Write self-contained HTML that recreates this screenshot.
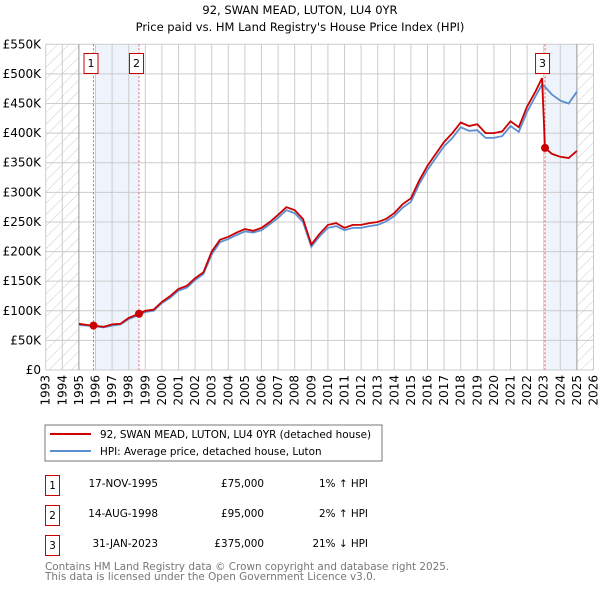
<!DOCTYPE html>
<html><head><meta charset="utf-8"><style>
body{margin:0;background:#fff;width:600px;height:590px;overflow:hidden;font-family:"DejaVu Sans","Liberation Sans",sans-serif;}
svg text{font-family:"DejaVu Sans","Liberation Sans",sans-serif;}
</style></head><body>
<svg id="c" width="600" height="590" xmlns="http://www.w3.org/2000/svg">
<defs><pattern id="hatch" width="8" height="8" patternUnits="userSpaceOnUse" patternTransform="rotate(45)"><line x1="0" y1="0" x2="0" y2="8" stroke="#ccc" stroke-width="1"/></pattern></defs>
<text x="300" y="14" text-anchor="middle" font-size="11.5">92, SWAN MEAD, LUTON, LU4 0YR</text>
<text x="300" y="31" text-anchor="middle" font-size="11.5">Price paid vs. HM Land Registry's House Price Index (HPI)</text>
<g id="plot"></g>
<rect x="45" y="425" width="337" height="36" fill="#fff" stroke="#777"/>
<line x1="50" y1="434" x2="91" y2="434" stroke="#cc0000" stroke-width="2"/>
<text x="100" y="438" font-size="10.4">92, SWAN MEAD, LUTON, LU4 0YR (detached house)</text>
<line x1="50" y1="451" x2="91" y2="451" stroke="#5b8fd0" stroke-width="2"/>
<text x="100" y="455" font-size="10.4">HPI: Average price, detached house, Luton</text>
<g font-size="10.4">
<rect x="45.5" y="475.5" width="14" height="20" fill="#fff" stroke="#cc0000"/><text x="52.5" y="489" text-anchor="middle">1</text>
<text x="158" y="487" text-anchor="end">17-NOV-1995</text><text x="264" y="487" text-anchor="end">£75,000</text><text x="368" y="487" text-anchor="end">1% ↑ HPI</text>
<rect x="45.5" y="505.5" width="14" height="20" fill="#fff" stroke="#cc0000"/><text x="52.5" y="519" text-anchor="middle">2</text>
<text x="158" y="517" text-anchor="end">14-AUG-1998</text><text x="264" y="517" text-anchor="end">£95,000</text><text x="368" y="517" text-anchor="end">2% ↑ HPI</text>
<rect x="45.5" y="535.5" width="14" height="20" fill="#fff" stroke="#cc0000"/><text x="52.5" y="549" text-anchor="middle">3</text>
<text x="158" y="547" text-anchor="end">31-JAN-2023</text><text x="264" y="547" text-anchor="end">£375,000</text><text x="368" y="547" text-anchor="end">21% ↓ HPI</text>
</g>
<text x="45" y="570" font-size="10.4" fill="#777">Contains HM Land Registry data © Crown copyright and database right 2025.</text>
<text x="45" y="580" font-size="10.4" fill="#777">This data is licensed under the Open Government Licence v3.0.</text>
</svg>
<script>
const years=[1995,1995.5,1995.88,1996.5,1997,1997.5,1998,1998.62,1999,1999.5,2000,2000.5,2001,2001.5,2002,2002.5,2003,2003.5,2004,2004.5,2005,2005.5,2006,2006.5,2007,2007.5,2008,2008.5,2009,2009.5,2010,2010.5,2011,2011.5,2012,2012.5,2013,2013.5,2014,2014.5,2015,2015.5,2016,2016.5,2017,2017.5,2018,2018.5,2019,2019.5,2020,2020.5,2021,2021.5,2022,2022.5,2022.9,2023.08,2023.5,2024,2024.5,2025];
const priceK=[78,76,75,73,77,78,88,95,100,102,115,125,137,142,155,165,200,220,225,232,238,235,240,250,262,275,270,255,212,230,245,248,240,245,245,248,250,255,265,280,290,320,345,365,385,400,418,412,415,400,400,403,420,410,445,470,493,375,365,360,358,370];
const hpiK=[76,75,74,72,75,77,86,93,98,100,113,122,134,139,152,162,195,216,221,228,234,232,236,246,257,270,265,250,208,226,240,243,236,240,240,243,245,251,260,274,284,314,338,358,378,392,410,404,405,392,392,395,412,402,436,462,482,478,465,455,450,470];
const sales=[{n:'1',t:1995.88,v:75},{n:'2',t:1998.62,v:95},{n:'3',t:2023.08,v:375}];
const yTicks=[0,50,100,150,200,250,300,350,400,450,500,550];
const xTicks=[1993,1994,1995,1996,1997,1998,1999,2000,2001,2002,2003,2004,2005,2006,2007,2008,2009,2010,2011,2012,2013,2014,2015,2016,2017,2018,2019,2020,2021,2022,2023,2024,2025,2026];
const X=t=>45.7+(t-1993)*16.6, Y=v=>370-v/550*325.7;
const g=document.getElementById('plot'),NS='http://www.w3.org/2000/svg';
function mk(tag,a,p){const e=document.createElementNS(NS,tag);for(const k in a)e.setAttribute(k,a[k]);(p||g).appendChild(e);return e;}
let e;
e=mk('rect',{x:X(1993),y:Y(550),width:X(2026)-X(1993),height:Y(0)-Y(550),fill:'#fff'});


e=mk('rect',{x:X(1993),y:Y(550),width:X(1995)-X(1993),height:Y(0)-Y(550),fill:'url(#hatch)'});


e=mk('rect',{x:X(2025),y:Y(550),width:X(2026)-X(2025),height:Y(0)-Y(550),fill:'url(#hatch)'});


e=mk('rect',{x:X(1996),y:Y(550),width:X(1998.62)-X(1996),height:Y(0)-Y(550),fill:'#eef3fc'});


e=mk('rect',{x:X(2023.08),y:Y(550),width:X(2025)-X(2023.08),height:Y(0)-Y(550),fill:'#eef3fc'});


yTicks.forEach(v=>{
 e=mk('line',{x1:X(1993),x2:X(2026),y1:Y(v),y2:Y(v),stroke:'#ccc'});
 
 
 e=mk('text',{x:41,y:Y(v)+4,'text-anchor':'end','font-size':12});
 e.textContent=v===0?'£0':'£'+v+'K';
 
 
});
xTicks.forEach(t=>{
 e=mk('line',{x1:X(t),x2:X(t),y1:Y(550),y2:Y(0),stroke:(t===1995||t===2025)?'#999':'#ccc'});
 
 
 e=mk('text',{transform:`translate(${X(t)+4},375) rotate(-90)`,'text-anchor':'end','font-size':12});
 e.textContent=t;
 
 
});
sales.forEach(s=>{
 e=mk('line',{x1:X(s.t),x2:X(s.t),y1:Y(550),y2:Y(0),stroke:'#f06060','stroke-dasharray':'2,2'});
 
 
});
function path(vals){return vals.map((v,i)=>(i?'L':'M')+X(years[i]).toFixed(1)+','+Y(v).toFixed(1)).join('');}
e=mk('path',{d:path(hpiK),fill:'none',stroke:'#5b8fd0','stroke-width':1.8});


e=mk('path',{d:path(priceK),fill:'none',stroke:'#cc0000','stroke-width':1.8});


sales.forEach(s=>{
 e=mk('circle',{cx:X(s.t),cy:Y(s.v),r:4,fill:'#cc0000'});
 
 
 const bx=X(s.t)-10;
 e=mk('rect',{x:bx+0.5,y:53.5,width:14,height:20,fill:'#fff',stroke:'#cc0000'});
 
 
 e=mk('text',{x:bx+7.5,y:67,'text-anchor':'middle','font-size':11});
 e.textContent=s.n;
 
 
});
</script>
</body></html>
